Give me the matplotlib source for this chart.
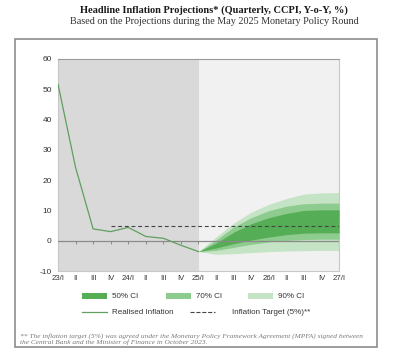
import matplotlib
matplotlib.use("Agg")
import matplotlib.pyplot as plt
from matplotlib.patches import Rectangle
from matplotlib.lines import Line2D

# Quarter tick labels, 2023 Q1 through 2027 Q1
quarters = ["23/I", "II", "III", "IV", "24/I", "II", "III", "IV",
            "25/I", "II", "III", "IV", "26/I", "II", "III", "IV", "27/I"]

# Realised headline inflation (CCPI, Y-o-Y %), 23/I .. 25/I
realised = [51.7, 24.2, 3.9, 3.0, 4.4, 1.4, 0.8, -1.5, -3.6]

# Projection fan, 25/I .. 27/I
ci90_low = [-3.6, -4.5, -4.3, -3.9, -3.6, -3.4, -3.3, -3.2, -3.2]
ci70_low = [-3.6, -3.2, -2.2, -1.2, -0.4, 0.1, 0.4, 0.5, 0.5]
ci50_low = [-3.6, -2.4, -1.0, 0.2, 1.2, 2.0, 2.5, 2.6, 2.6]
ci50_high = [-3.6, -0.8, 2.8, 5.6, 7.6, 9.0, 10.0, 10.2, 10.2]
ci70_high = [-3.6, 0.2, 4.5, 7.6, 9.9, 11.4, 12.2, 12.4, 12.4]
ci90_high = [-3.6, 1.2, 5.8, 9.4, 12.0, 13.9, 15.4, 15.8, 15.9]

target = 5.0
target_start = 3  # 23/IV

c50 = "#55ad55"
c70 = "#8ecb8e"
c90 = "#c5e3c5"
c_line = "#5f9f5f"

serif = ["Liberation Serif", "DejaVu Serif"]
sans = ["Liberation Sans", "DejaVu Sans"]

fig = plt.figure(figsize=(3.99, 3.5), dpi=100)

# Outer frame around the chart panel
fig.patches.append(Rectangle((15 / 399, 1 - 347 / 350), 362 / 399, 308 / 350,
                             transform=fig.transFigure, fill=False,
                             edgecolor="#8c8c8c", linewidth=1.2))

fig.text(214 / 399, 1 - 10 / 350,
         "Headline Inflation Projections* (Quarterly, CCPI, Y-o-Y, %)",
         ha="center", va="center", fontsize=7.5, fontweight="bold",
         family=serif, color="#1a1a1a")
fig.text(214 / 399, 1 - 22 / 350,
         "Based on the Projections during the May 2025 Monetary Policy Round",
         ha="center", va="center", fontsize=7.3, family=serif, color="#333333")

ax = fig.add_axes([58 / 399, 1 - 271 / 350, 281 / 399, 212 / 350])
n = len(quarters)
x_all = list(range(n))
x_real = x_all[:len(realised)]
x_proj = x_all[len(realised) - 1:]

ax.set_xlim(0, n - 1)
ax.set_ylim(-10, 60)

# Shaded history / projection backgrounds
split = len(realised) - 1
ax.axvspan(0, split, color="#d9d9d9", zorder=0, lw=0)
ax.axvspan(split, n - 1, color="#f1f1f1", zorder=0, lw=0)

ax.fill_between(x_proj, ci90_low, ci90_high, color=c90, lw=0, zorder=2)
ax.fill_between(x_proj, ci70_low, ci70_high, color=c70, lw=0, zorder=3)
ax.fill_between(x_proj, ci50_low, ci50_high, color=c50, lw=0, zorder=4)

ax.axhline(0, color="#8a8a8a", lw=0.9, zorder=5)
ax.plot(x_real, realised, color=c_line, lw=0.9, zorder=6)
ax.plot([target_start, n - 1], [target, target], color="#444444", lw=0.8,
        linestyle=(0, (3.5, 2.5)), zorder=6)

ax.set_xticks(x_all)
ax.set_xticklabels(quarters, family=sans, fontsize=5.6, color="#333333")
ax.tick_params(axis="x", length=0, pad=3)
ax.set_yticks(range(-10, 61, 10))
ax.set_yticklabels([str(v) for v in range(-10, 61, 10)], family=sans,
                   fontsize=6, color="#333333")
ax.tick_params(axis="y", length=0, pad=4.5)

for s in ax.spines.values():
    s.set_color("#c8c8c8")
    s.set_linewidth(0.8)
ax.spines["top"].set_color("#9a9a9a")

# Tick marks sitting on the zero line
zx = ax.secondary_xaxis(10 / 70)
zx.set_xticks(x_all)
zx.set_xticklabels([])
zx.tick_params(axis="x", direction="out", length=2.5, color="#8a8a8a", width=0.7)
zx.spines["bottom"].set_visible(False)

# Legend
handles = [
    Rectangle((0, 0), 1, 1, color=c50),
    Rectangle((0, 0), 1, 1, color=c70),
    Rectangle((0, 0), 1, 1, color=c90),
    Line2D([], [], color=c_line, lw=0.9),
    Line2D([], [], color="#444444", lw=0.8, linestyle=(0, (3.5, 2.5))),
]
labels = ["50% CI", "70% CI", "90% CI", "Realised Inflation",
          "Inflation Target (5%)**"]
items = [
    (handles[0], labels[0], 82, 296),
    (handles[1], labels[1], 166, 296),
    (handles[2], labels[2], 248, 296),
    (handles[3], labels[3], 82, 312),
    (handles[4], labels[4], 190, 312),
]
for h, lab, px, py in items:
    y = 1 - py / 350
    if isinstance(h, Rectangle):
        fig.patches.append(Rectangle((px / 399, y - 3 / 350), 25 / 399, 6 / 350,
                                     transform=fig.transFigure, color=h.get_facecolor(),
                                     lw=0))
        tx = px + 30
    else:
        fig.lines.append(Line2D([px / 399, (px + 25) / 399], [y, y],
                                transform=fig.transFigure, color=h.get_color(),
                                lw=h.get_linewidth(), linestyle=h.get_linestyle()))
        tx = px + 30 if lab.startswith("Realised") else px + 42
    fig.text(tx / 399, y, lab, ha="left", va="center", fontsize=5.8,
             family=sans, color="#333333")

foot = ("** The inflation target (5%) was agreed under the Monetary Policy "
        "Framework Agreement (MPFA) signed between\n"
        "the Central Bank and the Minister of Finance in October 2023.")
fig.text(20 / 399, 1 - 339 / 350, foot, ha="left", va="center", fontsize=5.3,
         family=serif, style="italic", color="#7a7a7a", linespacing=1.25)

fig.savefig("out.png", dpi=100)
